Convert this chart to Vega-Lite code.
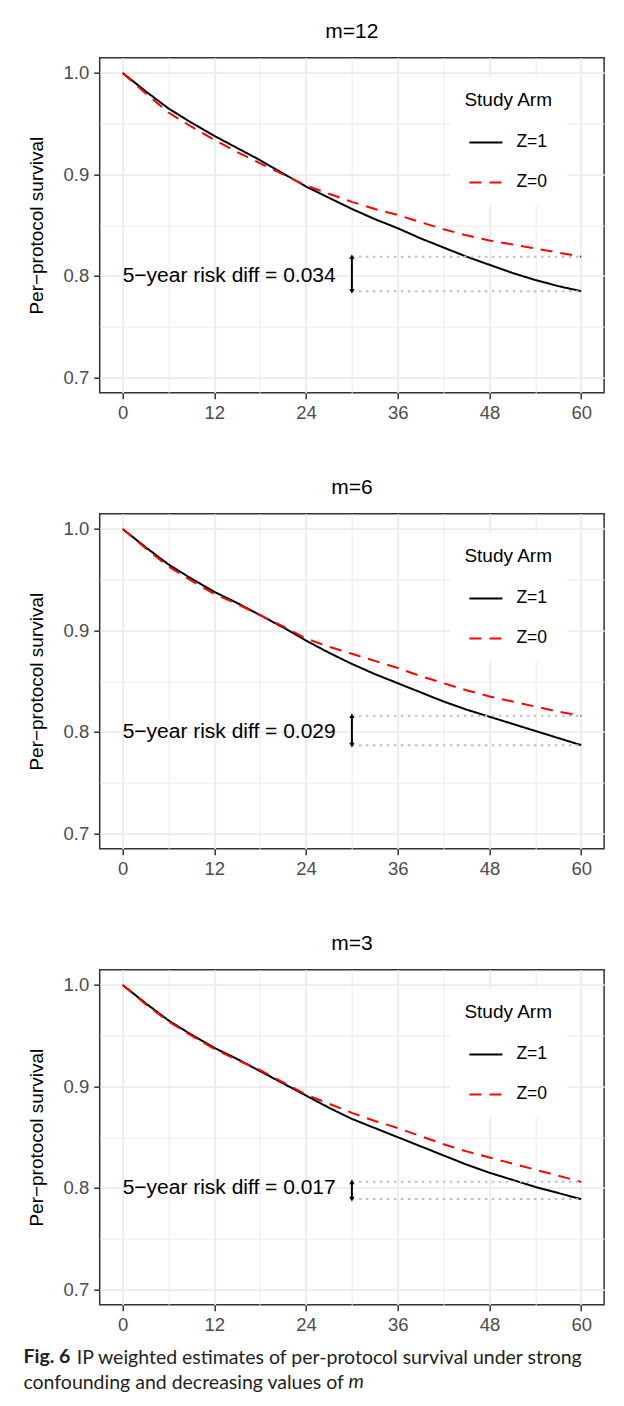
{
  "$schema": "https://vega.github.io/schema/vega-lite/v6.json",
  "padding": {"left": 22.7, "top": 19.7, "right": 0, "bottom": 0},
  "background": "white",
  "datasets": {
    "curves": [
      {"m": "m=12", "arm": "Z=1", "month": 0, "surv": 1.0},
      {"m": "m=12", "arm": "Z=1", "month": 3, "surv": 0.982},
      {"m": "m=12", "arm": "Z=1", "month": 6, "surv": 0.965},
      {"m": "m=12", "arm": "Z=1", "month": 9, "surv": 0.951},
      {"m": "m=12", "arm": "Z=1", "month": 12, "surv": 0.938},
      {"m": "m=12", "arm": "Z=1", "month": 15, "surv": 0.926},
      {"m": "m=12", "arm": "Z=1", "month": 18, "surv": 0.914},
      {"m": "m=12", "arm": "Z=1", "month": 21, "surv": 0.901},
      {"m": "m=12", "arm": "Z=1", "month": 24, "surv": 0.888},
      {"m": "m=12", "arm": "Z=1", "month": 27, "surv": 0.877},
      {"m": "m=12", "arm": "Z=1", "month": 30, "surv": 0.866},
      {"m": "m=12", "arm": "Z=1", "month": 33, "surv": 0.856},
      {"m": "m=12", "arm": "Z=1", "month": 36, "surv": 0.847},
      {"m": "m=12", "arm": "Z=1", "month": 39, "surv": 0.837},
      {"m": "m=12", "arm": "Z=1", "month": 42, "surv": 0.828},
      {"m": "m=12", "arm": "Z=1", "month": 45, "surv": 0.819},
      {"m": "m=12", "arm": "Z=1", "month": 48, "surv": 0.811},
      {"m": "m=12", "arm": "Z=1", "month": 51, "surv": 0.803},
      {"m": "m=12", "arm": "Z=1", "month": 54, "surv": 0.796},
      {"m": "m=12", "arm": "Z=1", "month": 57, "surv": 0.79},
      {"m": "m=12", "arm": "Z=1", "month": 60, "surv": 0.785},
      {"m": "m=12", "arm": "Z=0", "month": 0, "surv": 1.0},
      {"m": "m=12", "arm": "Z=0", "month": 3, "surv": 0.98},
      {"m": "m=12", "arm": "Z=0", "month": 6, "surv": 0.961},
      {"m": "m=12", "arm": "Z=0", "month": 9, "surv": 0.947},
      {"m": "m=12", "arm": "Z=0", "month": 12, "surv": 0.934},
      {"m": "m=12", "arm": "Z=0", "month": 15, "surv": 0.922},
      {"m": "m=12", "arm": "Z=0", "month": 18, "surv": 0.911},
      {"m": "m=12", "arm": "Z=0", "month": 21, "surv": 0.9},
      {"m": "m=12", "arm": "Z=0", "month": 24, "surv": 0.889},
      {"m": "m=12", "arm": "Z=0", "month": 27, "surv": 0.881},
      {"m": "m=12", "arm": "Z=0", "month": 30, "surv": 0.873},
      {"m": "m=12", "arm": "Z=0", "month": 33, "surv": 0.866},
      {"m": "m=12", "arm": "Z=0", "month": 36, "surv": 0.86},
      {"m": "m=12", "arm": "Z=0", "month": 39, "surv": 0.853},
      {"m": "m=12", "arm": "Z=0", "month": 42, "surv": 0.846},
      {"m": "m=12", "arm": "Z=0", "month": 45, "surv": 0.84},
      {"m": "m=12", "arm": "Z=0", "month": 48, "surv": 0.835},
      {"m": "m=12", "arm": "Z=0", "month": 51, "surv": 0.831},
      {"m": "m=12", "arm": "Z=0", "month": 54, "surv": 0.827},
      {"m": "m=12", "arm": "Z=0", "month": 57, "surv": 0.823},
      {"m": "m=12", "arm": "Z=0", "month": 60, "surv": 0.819},
      {"m": "m=6", "arm": "Z=1", "month": 0, "surv": 1.0},
      {"m": "m=6", "arm": "Z=1", "month": 3, "surv": 0.982},
      {"m": "m=6", "arm": "Z=1", "month": 6, "surv": 0.965},
      {"m": "m=6", "arm": "Z=1", "month": 9, "surv": 0.951},
      {"m": "m=6", "arm": "Z=1", "month": 12, "surv": 0.938},
      {"m": "m=6", "arm": "Z=1", "month": 15, "surv": 0.927},
      {"m": "m=6", "arm": "Z=1", "month": 18, "surv": 0.915},
      {"m": "m=6", "arm": "Z=1", "month": 21, "surv": 0.903},
      {"m": "m=6", "arm": "Z=1", "month": 24, "surv": 0.89},
      {"m": "m=6", "arm": "Z=1", "month": 27, "surv": 0.878},
      {"m": "m=6", "arm": "Z=1", "month": 30, "surv": 0.867},
      {"m": "m=6", "arm": "Z=1", "month": 33, "surv": 0.857},
      {"m": "m=6", "arm": "Z=1", "month": 36, "surv": 0.848},
      {"m": "m=6", "arm": "Z=1", "month": 39, "surv": 0.839},
      {"m": "m=6", "arm": "Z=1", "month": 42, "surv": 0.83},
      {"m": "m=6", "arm": "Z=1", "month": 45, "surv": 0.822},
      {"m": "m=6", "arm": "Z=1", "month": 48, "surv": 0.815},
      {"m": "m=6", "arm": "Z=1", "month": 51, "surv": 0.808},
      {"m": "m=6", "arm": "Z=1", "month": 54, "surv": 0.801},
      {"m": "m=6", "arm": "Z=1", "month": 57, "surv": 0.794},
      {"m": "m=6", "arm": "Z=1", "month": 60, "surv": 0.787},
      {"m": "m=6", "arm": "Z=0", "month": 0, "surv": 1.0},
      {"m": "m=6", "arm": "Z=0", "month": 3, "surv": 0.981},
      {"m": "m=6", "arm": "Z=0", "month": 6, "surv": 0.963},
      {"m": "m=6", "arm": "Z=0", "month": 9, "surv": 0.949},
      {"m": "m=6", "arm": "Z=0", "month": 12, "surv": 0.936},
      {"m": "m=6", "arm": "Z=0", "month": 15, "surv": 0.926},
      {"m": "m=6", "arm": "Z=0", "month": 18, "surv": 0.915},
      {"m": "m=6", "arm": "Z=0", "month": 21, "surv": 0.904},
      {"m": "m=6", "arm": "Z=0", "month": 24, "surv": 0.892},
      {"m": "m=6", "arm": "Z=0", "month": 27, "surv": 0.884},
      {"m": "m=6", "arm": "Z=0", "month": 30, "surv": 0.877},
      {"m": "m=6", "arm": "Z=0", "month": 33, "surv": 0.87},
      {"m": "m=6", "arm": "Z=0", "month": 36, "surv": 0.863},
      {"m": "m=6", "arm": "Z=0", "month": 39, "surv": 0.855},
      {"m": "m=6", "arm": "Z=0", "month": 42, "surv": 0.848},
      {"m": "m=6", "arm": "Z=0", "month": 45, "surv": 0.841},
      {"m": "m=6", "arm": "Z=0", "month": 48, "surv": 0.835},
      {"m": "m=6", "arm": "Z=0", "month": 51, "surv": 0.83},
      {"m": "m=6", "arm": "Z=0", "month": 54, "surv": 0.825},
      {"m": "m=6", "arm": "Z=0", "month": 57, "surv": 0.82},
      {"m": "m=6", "arm": "Z=0", "month": 60, "surv": 0.816},
      {"m": "m=3", "arm": "Z=1", "month": 0, "surv": 1.0},
      {"m": "m=3", "arm": "Z=1", "month": 3, "surv": 0.982},
      {"m": "m=3", "arm": "Z=1", "month": 6, "surv": 0.965},
      {"m": "m=3", "arm": "Z=1", "month": 9, "surv": 0.951},
      {"m": "m=3", "arm": "Z=1", "month": 12, "surv": 0.938},
      {"m": "m=3", "arm": "Z=1", "month": 15, "surv": 0.927},
      {"m": "m=3", "arm": "Z=1", "month": 18, "surv": 0.915},
      {"m": "m=3", "arm": "Z=1", "month": 21, "surv": 0.903},
      {"m": "m=3", "arm": "Z=1", "month": 24, "surv": 0.891},
      {"m": "m=3", "arm": "Z=1", "month": 27, "surv": 0.879},
      {"m": "m=3", "arm": "Z=1", "month": 30, "surv": 0.868},
      {"m": "m=3", "arm": "Z=1", "month": 33, "surv": 0.859},
      {"m": "m=3", "arm": "Z=1", "month": 36, "surv": 0.85},
      {"m": "m=3", "arm": "Z=1", "month": 39, "surv": 0.841},
      {"m": "m=3", "arm": "Z=1", "month": 42, "surv": 0.832},
      {"m": "m=3", "arm": "Z=1", "month": 45, "surv": 0.823},
      {"m": "m=3", "arm": "Z=1", "month": 48, "surv": 0.815},
      {"m": "m=3", "arm": "Z=1", "month": 51, "surv": 0.808},
      {"m": "m=3", "arm": "Z=1", "month": 54, "surv": 0.801},
      {"m": "m=3", "arm": "Z=1", "month": 57, "surv": 0.795},
      {"m": "m=3", "arm": "Z=1", "month": 60, "surv": 0.789},
      {"m": "m=3", "arm": "Z=0", "month": 0, "surv": 1.0},
      {"m": "m=3", "arm": "Z=0", "month": 3, "surv": 0.981},
      {"m": "m=3", "arm": "Z=0", "month": 6, "surv": 0.964},
      {"m": "m=3", "arm": "Z=0", "month": 9, "surv": 0.95},
      {"m": "m=3", "arm": "Z=0", "month": 12, "surv": 0.937},
      {"m": "m=3", "arm": "Z=0", "month": 15, "surv": 0.926},
      {"m": "m=3", "arm": "Z=0", "month": 18, "surv": 0.916},
      {"m": "m=3", "arm": "Z=0", "month": 21, "surv": 0.904},
      {"m": "m=3", "arm": "Z=0", "month": 24, "surv": 0.892},
      {"m": "m=3", "arm": "Z=0", "month": 27, "surv": 0.883},
      {"m": "m=3", "arm": "Z=0", "month": 30, "surv": 0.874},
      {"m": "m=3", "arm": "Z=0", "month": 33, "surv": 0.866},
      {"m": "m=3", "arm": "Z=0", "month": 36, "surv": 0.859},
      {"m": "m=3", "arm": "Z=0", "month": 39, "surv": 0.851},
      {"m": "m=3", "arm": "Z=0", "month": 42, "surv": 0.843},
      {"m": "m=3", "arm": "Z=0", "month": 45, "surv": 0.836},
      {"m": "m=3", "arm": "Z=0", "month": 48, "surv": 0.83},
      {"m": "m=3", "arm": "Z=0", "month": 51, "surv": 0.824},
      {"m": "m=3", "arm": "Z=0", "month": 54, "surv": 0.818},
      {"m": "m=3", "arm": "Z=0", "month": 57, "surv": 0.812},
      {"m": "m=3", "arm": "Z=0", "month": 60, "surv": 0.806}
    ],
    "notes": [
      {"m": "m=12", "label": "5−year risk diff = 0.034", "hi": 0.819, "lo": 0.785},
      {"m": "m=6", "label": "5−year risk diff = 0.029", "hi": 0.816, "lo": 0.787},
      {"m": "m=3", "label": "5−year risk diff = 0.017", "hi": 0.806, "lo": 0.789}
    ]
  },
  "title": {"text": "m", "fontStyle": "italic", "fontWeight": "normal", "orient": "bottom", "anchor": "start", "frame": "bounds", "offset": 0, "dy": -19.5, "dx": 325, "font": "Lato", "fontSize": 19.5, "color": "#231f20"},
  "resolve": {"scale": {"color": "independent", "strokeDash": "independent"}},
  "vconcat": [
    {
      "title": {"text": "confounding and decreasing values of", "fontWeight": "normal", "orient": "bottom", "anchor": "start", "frame": "bounds", "offset": 6.5, "font": "Lato", "fontSize": 19.5, "color": "#231f20"},
      "resolve": {"scale": {"color": "independent", "strokeDash": "independent"}},
      "vconcat": [
        {
          "title": {"text": "Fig. 6", "fontWeight": "bold", "orient": "bottom", "anchor": "start", "frame": "bounds", "offset": 0, "dy": -19.5, "dx": -3.8, "font": "Lato", "fontSize": 19.5, "color": "#231f20"},
          "resolve": {"scale": {"color": "independent", "strokeDash": "independent"}},
          "vconcat": [
            {
              "title": {"text": "IP weighted estimates of per-protocol survival under strong", "fontWeight": "normal", "orient": "bottom", "anchor": "start", "frame": "bounds", "offset": 14, "dx": 49.5, "font": "Lato", "fontSize": 19.5, "color": "#231f20"},
              "bounds": "flush",
              "spacing": 121,
              "resolve": {"scale": {"color": "independent", "strokeDash": "independent"}},
              "vconcat": [
                {
                  "width": 504.4, "height": 335,
                  "title": {"text": "m=12"},
                  "layer": [
                    {
                      "data": {"name": "curves"},
                      "transform": [{"filter": "datum.m == 'm=12'"}],
                      "mark": {"type": "line", "strokeWidth": 2},
                      "encoding": {
                        "x": {"field": "month", "type": "quantitative", "scale": {"domain": [-3, 63], "nice": false, "zero": false},
                          "axis": {"title": null, "values": [0, 6, 12, 18, 24, 30, 36, 42, 48, 54, 60], "labelExpr": "datum.value % 12 == 0 ? datum.label : ''", "tickOpacity": {"condition": {"test": "datum.value % 12 == 0", "value": 1}, "value": 0}, "gridWidth": {"condition": {"test": "datum.value % 12 == 0", "value": 1.8}, "value": 0.9}}},
                        "y": {"field": "surv", "type": "quantitative", "title": "Per−protocol survival", "scale": {"domain": [0.685, 1.015], "nice": false, "zero": false},
                          "axis": {"values": [0.7, 0.75, 0.8, 0.85, 0.9, 0.95, 1.0], "labelExpr": "round(datum.value * 100) % 10 == 0 ? format(datum.value, '.1f') : ''", "tickOpacity": {"condition": {"test": "round(datum.value * 100) % 10 == 0", "value": 1}, "value": 0}, "gridWidth": {"condition": {"test": "round(datum.value * 100) % 10 == 0", "value": 1.8}, "value": 0.9}}},
                        "color": {"field": "arm", "type": "nominal", "title": "Study Arm", "scale": {"domain": ["Z=1", "Z=0"], "range": ["#000000", "#FF0000"]}},
                        "strokeDash": {"field": "arm", "type": "nominal", "title": "Study Arm", "scale": {"domain": ["Z=1", "Z=0"], "range": [[1, 0], [12, 8]]}}
                      }
                    },
                    {
                      "data": {"name": "notes"},
                      "transform": [{"filter": "datum.m == 'm=12'"}],
                      "layer": [
                        {"mark": {"type": "rule", "color": "#BEBEBE", "strokeWidth": 2, "strokeDash": [2.5, 4.5]},
                         "encoding": {"x": {"datum": 30, "type": "quantitative"}, "x2": {"datum": 60}, "y": {"field": "hi", "type": "quantitative", "title": "Per−protocol survival"}}},
                        {"mark": {"type": "rule", "color": "#BEBEBE", "strokeWidth": 2, "strokeDash": [2.5, 4.5]},
                         "encoding": {"x": {"datum": 30, "type": "quantitative"}, "x2": {"datum": 60}, "y": {"field": "lo", "type": "quantitative", "title": "Per−protocol survival"}}},
                        {"mark": {"type": "rule", "color": "black", "strokeWidth": 2},
                         "encoding": {"x": {"datum": 30, "type": "quantitative"}, "y": {"field": "hi", "type": "quantitative", "title": "Per−protocol survival"}, "y2": {"field": "lo"}}},
                        {"mark": {"type": "point", "shape": "triangle-up", "filled": true, "color": "black", "size": 28, "opacity": 1},
                         "encoding": {"x": {"datum": 30, "type": "quantitative"}, "y": {"field": "hi", "type": "quantitative", "title": "Per−protocol survival"}}},
                        {"mark": {"type": "point", "shape": "triangle-down", "filled": true, "color": "black", "size": 28, "opacity": 1},
                         "encoding": {"x": {"datum": 30, "type": "quantitative"}, "y": {"field": "lo", "type": "quantitative", "title": "Per−protocol survival"}}},
                        {"mark": {"type": "text", "align": "left", "baseline": "middle", "fontSize": 21, "color": "black"},
                         "encoding": {"x": {"datum": 0, "type": "quantitative"}, "y": {"datum": 0.8, "type": "quantitative"}, "text": {"field": "label"}}}
                      ]
                    }
                  ]
                },
                {
                  "width": 504.4, "height": 335,
                  "title": {"text": "m=6"},
                  "layer": [
                    {
                      "data": {"name": "curves"},
                      "transform": [{"filter": "datum.m == 'm=6'"}],
                      "mark": {"type": "line", "strokeWidth": 2},
                      "encoding": {
                        "x": {"field": "month", "type": "quantitative", "scale": {"domain": [-3, 63], "nice": false, "zero": false},
                          "axis": {"title": null, "values": [0, 6, 12, 18, 24, 30, 36, 42, 48, 54, 60], "labelExpr": "datum.value % 12 == 0 ? datum.label : ''", "tickOpacity": {"condition": {"test": "datum.value % 12 == 0", "value": 1}, "value": 0}, "gridWidth": {"condition": {"test": "datum.value % 12 == 0", "value": 1.8}, "value": 0.9}}},
                        "y": {"field": "surv", "type": "quantitative", "title": "Per−protocol survival", "scale": {"domain": [0.685, 1.015], "nice": false, "zero": false},
                          "axis": {"values": [0.7, 0.75, 0.8, 0.85, 0.9, 0.95, 1.0], "labelExpr": "round(datum.value * 100) % 10 == 0 ? format(datum.value, '.1f') : ''", "tickOpacity": {"condition": {"test": "round(datum.value * 100) % 10 == 0", "value": 1}, "value": 0}, "gridWidth": {"condition": {"test": "round(datum.value * 100) % 10 == 0", "value": 1.8}, "value": 0.9}}},
                        "color": {"field": "arm", "type": "nominal", "title": "Study Arm", "scale": {"domain": ["Z=1", "Z=0"], "range": ["#000000", "#FF0000"]}},
                        "strokeDash": {"field": "arm", "type": "nominal", "title": "Study Arm", "scale": {"domain": ["Z=1", "Z=0"], "range": [[1, 0], [12, 8]]}}
                      }
                    },
                    {
                      "data": {"name": "notes"},
                      "transform": [{"filter": "datum.m == 'm=6'"}],
                      "layer": [
                        {"mark": {"type": "rule", "color": "#BEBEBE", "strokeWidth": 2, "strokeDash": [2.5, 4.5]},
                         "encoding": {"x": {"datum": 30, "type": "quantitative"}, "x2": {"datum": 60}, "y": {"field": "hi", "type": "quantitative", "title": "Per−protocol survival"}}},
                        {"mark": {"type": "rule", "color": "#BEBEBE", "strokeWidth": 2, "strokeDash": [2.5, 4.5]},
                         "encoding": {"x": {"datum": 30, "type": "quantitative"}, "x2": {"datum": 60}, "y": {"field": "lo", "type": "quantitative", "title": "Per−protocol survival"}}},
                        {"mark": {"type": "rule", "color": "black", "strokeWidth": 2},
                         "encoding": {"x": {"datum": 30, "type": "quantitative"}, "y": {"field": "hi", "type": "quantitative", "title": "Per−protocol survival"}, "y2": {"field": "lo"}}},
                        {"mark": {"type": "point", "shape": "triangle-up", "filled": true, "color": "black", "size": 28, "opacity": 1},
                         "encoding": {"x": {"datum": 30, "type": "quantitative"}, "y": {"field": "hi", "type": "quantitative", "title": "Per−protocol survival"}}},
                        {"mark": {"type": "point", "shape": "triangle-down", "filled": true, "color": "black", "size": 28, "opacity": 1},
                         "encoding": {"x": {"datum": 30, "type": "quantitative"}, "y": {"field": "lo", "type": "quantitative", "title": "Per−protocol survival"}}},
                        {"mark": {"type": "text", "align": "left", "baseline": "middle", "fontSize": 21, "color": "black"},
                         "encoding": {"x": {"datum": 0, "type": "quantitative"}, "y": {"datum": 0.8, "type": "quantitative"}, "text": {"field": "label"}}}
                      ]
                    }
                  ]
                },
                {
                  "width": 504.4, "height": 335,
                  "title": {"text": "m=3"},
                  "layer": [
                    {
                      "data": {"name": "curves"},
                      "transform": [{"filter": "datum.m == 'm=3'"}],
                      "mark": {"type": "line", "strokeWidth": 2},
                      "encoding": {
                        "x": {"field": "month", "type": "quantitative", "scale": {"domain": [-3, 63], "nice": false, "zero": false},
                          "axis": {"title": null, "values": [0, 6, 12, 18, 24, 30, 36, 42, 48, 54, 60], "labelExpr": "datum.value % 12 == 0 ? datum.label : ''", "tickOpacity": {"condition": {"test": "datum.value % 12 == 0", "value": 1}, "value": 0}, "gridWidth": {"condition": {"test": "datum.value % 12 == 0", "value": 1.8}, "value": 0.9}}},
                        "y": {"field": "surv", "type": "quantitative", "title": "Per−protocol survival", "scale": {"domain": [0.685, 1.015], "nice": false, "zero": false},
                          "axis": {"values": [0.7, 0.75, 0.8, 0.85, 0.9, 0.95, 1.0], "labelExpr": "round(datum.value * 100) % 10 == 0 ? format(datum.value, '.1f') : ''", "tickOpacity": {"condition": {"test": "round(datum.value * 100) % 10 == 0", "value": 1}, "value": 0}, "gridWidth": {"condition": {"test": "round(datum.value * 100) % 10 == 0", "value": 1.8}, "value": 0.9}}},
                        "color": {"field": "arm", "type": "nominal", "title": "Study Arm", "scale": {"domain": ["Z=1", "Z=0"], "range": ["#000000", "#FF0000"]}},
                        "strokeDash": {"field": "arm", "type": "nominal", "title": "Study Arm", "scale": {"domain": ["Z=1", "Z=0"], "range": [[1, 0], [12, 8]]}}
                      }
                    },
                    {
                      "data": {"name": "notes"},
                      "transform": [{"filter": "datum.m == 'm=3'"}],
                      "layer": [
                        {"mark": {"type": "rule", "color": "#BEBEBE", "strokeWidth": 2, "strokeDash": [2.5, 4.5]},
                         "encoding": {"x": {"datum": 30, "type": "quantitative"}, "x2": {"datum": 60}, "y": {"field": "hi", "type": "quantitative", "title": "Per−protocol survival"}}},
                        {"mark": {"type": "rule", "color": "#BEBEBE", "strokeWidth": 2, "strokeDash": [2.5, 4.5]},
                         "encoding": {"x": {"datum": 30, "type": "quantitative"}, "x2": {"datum": 60}, "y": {"field": "lo", "type": "quantitative", "title": "Per−protocol survival"}}},
                        {"mark": {"type": "rule", "color": "black", "strokeWidth": 2},
                         "encoding": {"x": {"datum": 30, "type": "quantitative"}, "y": {"field": "hi", "type": "quantitative", "title": "Per−protocol survival"}, "y2": {"field": "lo"}}},
                        {"mark": {"type": "point", "shape": "triangle-up", "filled": true, "color": "black", "size": 28, "opacity": 1},
                         "encoding": {"x": {"datum": 30, "type": "quantitative"}, "y": {"field": "hi", "type": "quantitative", "title": "Per−protocol survival"}}},
                        {"mark": {"type": "point", "shape": "triangle-down", "filled": true, "color": "black", "size": 28, "opacity": 1},
                         "encoding": {"x": {"datum": 30, "type": "quantitative"}, "y": {"field": "lo", "type": "quantitative", "title": "Per−protocol survival"}}},
                        {"mark": {"type": "text", "align": "left", "baseline": "middle", "fontSize": 21, "color": "black"},
                         "encoding": {"x": {"datum": 0, "type": "quantitative"}, "y": {"datum": 0.8, "type": "quantitative"}, "text": {"field": "label"}}}
                      ]
                    }
                  ]
                }
              ]
            }
          ]
        }
      ]
    }
  ],
  "config": {
    "font": "Liberation Sans",
    "view": {"stroke": "#333333", "strokeWidth": 1.5},
    "title": {"fontSize": 21, "fontWeight": "normal", "color": "#000000", "anchor": "middle", "frame": "group", "offset": 16, "font": "Liberation Sans"},
    "axis": {
      "domain": false,
      "gridColor": "#EBEBEB",
      "tickColor": "#333333",
      "tickSize": 6,
      "tickWidth": 1.5,
      "labelColor": "#4D4D4D",
      "labelFontSize": 18.5,
      "labelPadding": 5,
      "labelOverlap": false,
      "labelFlush": false,
      "titleFontSize": 19,
      "titleFontWeight": "normal",
      "titleColor": "#000000",
      "titlePadding": 16
    },
    "legend": {
      "orient": "none",
      "legendX": 350.7,
      "legendY": 19.3,
      "fillColor": "white",
      "padding": 14,
      "titleFontSize": 19,
      "titleFontWeight": "normal",
      "titleColor": "#000000",
      "titlePadding": 15,
      "labelFontSize": 17.5,
      "labelColor": "#000000",
      "labelOffset": 13,
      "symbolType": "stroke",
      "symbolSize": 1089,
      "symbolStrokeWidth": 2,
      "symbolOffset": 4,
      "rowPadding": 14
    }
  }
}
